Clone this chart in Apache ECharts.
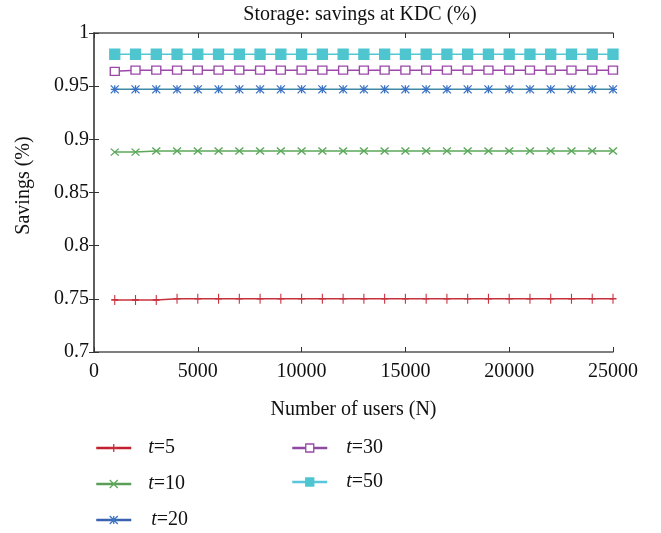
<!DOCTYPE html>
<html>
<head>
<meta charset="utf-8">
<script src="https://cdn.jsdelivr.net/npm/echarts@6/dist/echarts.min.js"></script>
<style>
html,body{margin:0;padding:0;background:#fff;}
#chart{width:661px;height:533px;}
</style>
</head>
<body>
<div id="chart"></div>
<script>
// Number of users (N)
const users = [1000,2000,3000,4000,5000,6000,7000,8000,9000,10000,11000,12000,13000,
  14000,15000,16000,17000,18000,19000,20000,21000,22000,23000,24000,25000];

// Storage savings at the KDC for each threshold t
const t5  = [0.749,0.749,0.749,0.75,0.75,0.75,0.75,0.75,0.75,0.75,0.75,0.75,0.75,
  0.75,0.75,0.75,0.75,0.75,0.75,0.75,0.75,0.75,0.75,0.75,0.75];
const t10 = [0.888,0.888,0.889,0.889,0.889,0.889,0.889,0.889,0.889,0.889,0.889,0.889,0.889,
  0.889,0.889,0.889,0.889,0.889,0.889,0.889,0.889,0.889,0.889,0.889,0.889];
const t20 = [0.947,0.947,0.947,0.947,0.947,0.947,0.947,0.947,0.947,0.947,0.947,0.947,0.947,
  0.947,0.947,0.947,0.947,0.947,0.947,0.947,0.947,0.947,0.947,0.947,0.947];
const t30 = [0.964,0.965,0.965,0.965,0.965,0.965,0.965,0.965,0.965,0.965,0.965,0.965,0.965,
  0.965,0.965,0.965,0.965,0.965,0.965,0.965,0.965,0.965,0.965,0.965,0.965];
const t50 = [0.98,0.98,0.98,0.98,0.98,0.98,0.98,0.98,0.98,0.98,0.98,0.98,0.98,
  0.98,0.98,0.98,0.98,0.98,0.98,0.98,0.98,0.98,0.98,0.98,0.98];

const seriesNames = ['t=5','t=10','t=20','t=30','t=50'];
const seriesData = [t5, t10, t20, t30, t50];

const FONT = '"Liberation Serif","DejaVu Serif",serif';

const PLUS = 'path://M5,0L5,10M0,5L10,5';
const CROSS = 'path://M0,0L10,10M10,0L0,10';
const STAR = 'path://M0,0L10,10M10,0L0,10M5,0L5,10M0,5L10,5';

const styles = [
  {line:'#c8323e', mark:'#c8323e', symbol:PLUS, size:[7,10], fill:'none', legendLine:'#c21f30'},
  {line:'#5ba85a', mark:'#5ba85a', symbol:CROSS, size:[8,7], fill:'none', legendLine:'#5a9e58'},
  {line:'#3d8aa2', mark:'#3a72c4', symbol:STAR, size:[8,8], fill:'none', legendLine:'#3a62b0'},
  {line:'#9b48a9', mark:'#9b48a9', symbol:'rect', size:[9,8], fill:'#fff', legendLine:'#8e4a9e'},
  {line:'#52c8d2', mark:'#4fc6cf', symbol:'rect', size:[10,10], fill:'#4fc6cf', legendLine:'#58c6dc'}
];

const series = seriesNames.map((name, i) => {
  const s = styles[i];
  return {
    name: name,
    type: 'line',
    data: users.map((u, k) => [u, seriesData[i][k]]),
    symbol: s.symbol,
    symbolSize: s.size,
    showAllSymbol: true,
    lineStyle: {color: s.line, width: 1.5},
    itemStyle: {color: s.fill, borderColor: s.mark, borderWidth: 1.3},
    emphasis: {disabled: true},
    animation: false,
    z: 3
  };
});

// Legend entries placed individually
const legendPos = [
  {left: 95, top: 438},
  {left: 95, top: 474},
  {left: 95, top: 510},
  {left: 291, top: 438},
  {left: 291, top: 472}
];
const legendPad = [12, 12, 15, 14, 14];

const legends = seriesNames.map((name, i) => ({
  data: [{
    name: name,
    lineStyle: {color: styles[i].legendLine, width: 2.5},
    itemStyle: {color: styles[i].fill, borderColor: styles[i].mark, borderWidth: 1.3}
  }],
  left: legendPos[i].left,
  top: legendPos[i].top,
  padding: 0,
  orient: 'horizontal',
  itemWidth: 35,
  itemHeight: 10,
  selectedMode: false,
  formatter: n => '{i|t}{n|=' + n.split('=')[1] + '}',
  textStyle: {
    padding: [0, 0, 0, legendPad[i]],
    rich: {
      i: {fontFamily: FONT, fontStyle: 'italic', fontSize: 20, color: '#111'},
      n: {fontFamily: FONT, fontSize: 20, color: '#111'}
    }
  }
}));

const chart = echarts.init(document.getElementById('chart'), null, {renderer: 'canvas'});
chart.setOption({
  backgroundColor: '#fff',
  animation: false,
  title: {
    text: 'Storage: savings at KDC (%)',
    left: 355,
    textAlign: 'center',
    top: 0,
    textStyle: {fontFamily: FONT, fontSize: 20, fontWeight: 'normal', color: '#111'}
  },
  legend: legends,
  grid: {left: 94, right: 48, top: 33, bottom: 181, containLabel: false},
  xAxis: [{
    type: 'value',
    min: 0, max: 25000, interval: 5000,
    name: 'Number of users (N)',
    nameLocation: 'middle',
    nameGap: 48,
    nameTextStyle: {fontFamily: FONT, fontSize: 20, color: '#111'},
    axisLine: {show: true, lineStyle: {color: '#555', width: 1.5}},
    axisTick: {show: true, inside: true, length: 5, lineStyle: {color: '#333'}},
    axisLabel: {fontFamily: FONT, fontSize: 20, color: '#111', margin: 10,
      formatter: v => String(v)},
    splitLine: {show: false}
  }, {
    type: 'value',
    position: 'top',
    min: 0, max: 25000, interval: 5000,
    axisLine: {show: true, lineStyle: {color: '#555', width: 1.5}},
    axisTick: {show: true, inside: true, length: 5, lineStyle: {color: '#333'}},
    axisLabel: {show: false},
    splitLine: {show: false}
  }],
  yAxis: [{
    type: 'value',
    min: 0.7, max: 1, interval: 0.05,
    name: 'Savings (%)',
    nameLocation: 'middle',
    nameGap: 60,
    nameTextStyle: {fontFamily: FONT, fontSize: 20, color: '#111', padding: [0, 0, 0, 14]},
    axisLine: {show: true, lineStyle: {color: '#555', width: 1.5}},
    axisTick: {show: true, inside: true, length: 5, lineStyle: {color: '#333'}},
    axisLabel: {fontFamily: FONT, fontSize: 20, color: '#111', margin: 5,
      formatter: v => String(parseFloat(v.toFixed(2)))},
    splitLine: {show: false}
  }, {
    type: 'value',
    position: 'right',
    min: 0.7, max: 1, interval: 0.05,
    axisLine: {show: true, lineStyle: {color: '#555', width: 1.5}},
    axisTick: {show: true, inside: true, length: 5, lineStyle: {color: '#333'}},
    axisLabel: {show: false},
    splitLine: {show: false}
  }],
  series: series
});
</script>
</body>
</html>
